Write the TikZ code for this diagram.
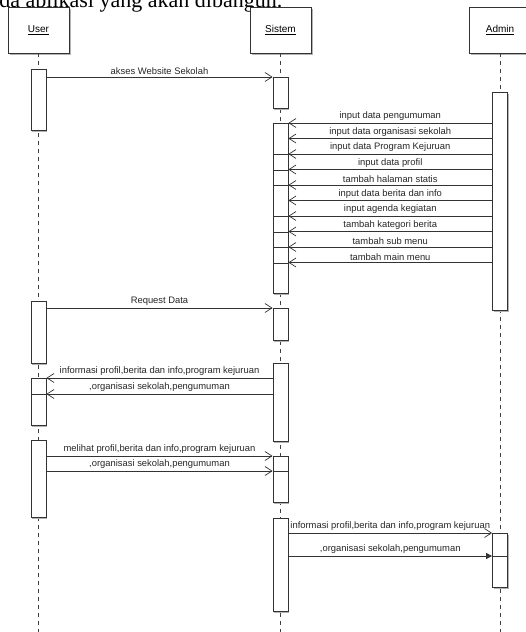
\documentclass[tikz,border=0pt]{standalone}
\usepackage{fontspec}
\setmainfont{Liberation Serif}
\setsansfont{Liberation Sans}
\usetikzlibrary{arrows.meta,shadows}

\begin{document}
\begin{tikzpicture}[x=1pt, y=-1pt, line width=0.8pt,
	obj/.style={draw=black!80, fill=white, minimum width=61pt, minimum height=46pt, inner sep=0pt,
		drop shadow={shadow xshift=1.5pt, shadow yshift=-1.5pt, fill=black!30, opacity=1},
		font=\sffamily\fontsize{10}{12}\selectfont},
	act/.style={draw=black!80, fill=white, minimum width=15pt, inner sep=0pt, anchor=north,
		drop shadow={shadow xshift=1.2pt, shadow yshift=-1.2pt, fill=black!30, opacity=1}},
	life/.style={draw=black!75, dash pattern=on 4pt off 4pt},
	msg/.style={draw=black!80, -{Straight Barb[length=7pt, width=9pt, line width=0.7pt]}},
	msgfull/.style={draw=black!80, -{Triangle[length=6pt, width=6pt]}},
	lbl/.style={font=\sffamily\fontsize{9.4}{11}\selectfont, text=black!85, above, inner sep=2pt}]
	\useasboundingbox (0,0) rectangle (526,632);
	
	% teks judul yang terpotong
	\node [anchor=base west, inner sep=0pt, font=\fontsize{22}{26}\selectfont] (judul) at (-1,7.5) {da aplikasi yang akan dibangun.};
	
	% Objek {user, sistem, admin}
	\node [obj] (user)   at (38.5,30)  {\underline{User}};
	\node [obj] (sistem) at (280.5,30) {\underline{Sistem}};
	\node [obj] (admin)  at (500,30)   {\underline{Admin}};
	
	% Lifeline
	\coordinate (bawah) at (0,632);
	\draw [life] (user.south)   -- (user.south |- bawah);
	\draw [life] (sistem.south) -- (sistem.south |- bawah);
	\draw [life] (admin.south)  -- (admin.south |- bawah);
	
	% Aktivasi user
	\node [act, minimum height=61pt] (ua1)  at (38.5,69)  {};
	\node [act, minimum height=62pt] (ua2)  at (38.5,301) {};
	\node [act, minimum height=47pt] (ua3)  at (38.5,378) {};
	\node [act, minimum height=31pt] (ua3b) at (38.5,394) {};
	\node [act, minimum height=77pt] (ua4)  at (38.5,440) {};
	
	% Aktivasi sistem
	\node [act, minimum height=31pt]  (sa1)  at (280.5,77)  {};
	\node [act, minimum height=170pt] (sa2)  at (280.5,123) {};
	\foreach \k in {2,3,4,6,7,8,9}
		\node [act, minimum height={170-15.5*\k}] (sa2n\k) at (280.5,{123+15.5*\k}) {};
	\node [act, minimum height=32pt]  (sa3)  at (280.5,308) {};
	\node [act, minimum height=78pt]  (sa4)  at (280.5,363) {};
	\node [act, minimum height=46pt]  (sa5)  at (280.5,456) {};
	\node [act, minimum height=31pt]  (sa5b) at (280.5,471) {};
	\node [act, minimum height=93pt]  (sa6)  at (280.5,518) {};
	
	% Aktivasi admin
	\node [act, minimum height=218pt] (aa1)  at (500,92)  {};
	\node [act, minimum height=54pt]  (aa2)  at (500,533) {};
	\node [act, minimum height=31pt]  (aa2b) at (500,556) {};
	
	% Pesan
	\draw [msg] (ua1.east |- sa1.north) -- node [lbl] {akses Website Sekolah} (sa1.north west);
	
	\foreach \teks [count=\k from 0] in {input data pengumuman, input data organisasi sekolah,
		input data Program Kejuruan, input data profil, tambah halaman statis,
		input data berita dan info, input agenda kegiatan, tambah kategori berita,
		tambah sub menu, tambah main menu}
		\draw [msg] (aa1.west |- 0,{123+15.5*\k}) -- node [lbl] {\teks} (sa2.east |- 0,{123+15.5*\k});
	
	\draw [msg] (ua2.east |- sa3.north) -- node [lbl] {Request Data} (sa3.north west);
	
	\draw [msg] (sa4.west |- ua3.north) -- node [lbl] {informasi profil,berita dan info,program kejuruan} (ua3.north east);
	\draw [msg] (sa4.west |- ua3b.north) -- node [lbl] {,organisasi sekolah,pengumuman} (ua3b.north east);
	
	\draw [msg] (ua4.east |- sa5.north) -- node [lbl] {melihat profil,berita dan info,program kejuruan} (sa5.north west);
	\draw [msg] (ua4.east |- sa5b.north) -- node [lbl] {,organisasi sekolah,pengumuman} (sa5b.north west);
	
	\draw [msg] (sa6.east |- aa2.north) -- node [lbl] {informasi profil,berita dan info,program kejuruan} (aa2.north west);
	\draw [msgfull] (sa6.east |- aa2b.north) -- node [lbl] {,organisasi sekolah,pengumuman} (aa2b.north west);
	
\end{tikzpicture}
\end{document}
